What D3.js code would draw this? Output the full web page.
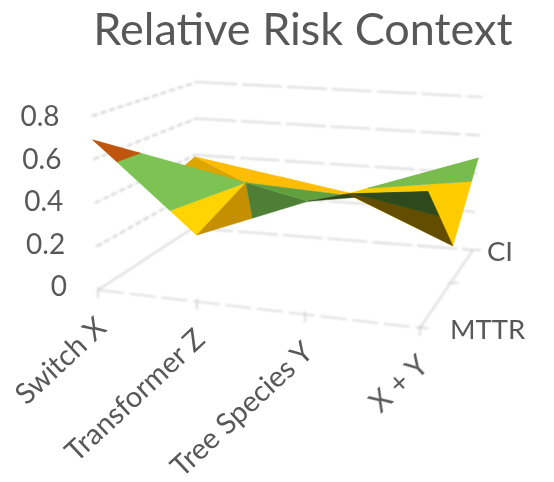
<!DOCTYPE html>
<html>
<head>
<meta charset="utf-8">
<script src="https://cdn.jsdelivr.net/npm/d3@7"></script>
<style>
  body { margin: 0; background: #fff; }
  text { font-family: Lato, "Open Sans", sans-serif; fill: #595959; }
</style>
</head>
<body>
<div id="wrapper"></div>
<script>
// categories along the front edge, series going back into the picture
const categories = ["Switch X", "Transformer Z", "Tree Species Y", "X + Y"]
const seriesNames = ["MTTR", "", "CI"]
const valueTicks = [0, 0.2, 0.4, 0.6, 0.8]

// surface values, one list per series
const mttrValues = [0.69, 0.30, 0.50, 0.59]
const midValues = [0.314, 0.40, 0.385, 0.177]
const ciValues = [0.39, 0.312, 0.23, 0.481]

const bandLimits = [0, 0.4, 0.6, 0.8]

const width = 554
const height = 482

// shades of the bands (low to high), depends on which way a facet looks
const shades = {
    lit: ["#ffd400", "#7dc353", "#c0550f"],
    right: ["#ffcc00", "#79bb4e", "#c0550f"],
    top: ["#ffbc00", "#62a03e", "#c0550f"],
    shaded: ["#dca500", "#62a03e", "#c0550f"],
    side: ["#c49000", "#4f7f34", "#c0550f"],
    fold: ["#ffbc00", "#62a03e", "#c0550f"],
    under: ["#634d00", "#2d4a1f", "#c0550f"]
}

// triangles of the grid in painting order, back to front: [series, category] x 3
const facets = [
    { at: [[1, 0], [1, 1], [2, 0]], shade: "shaded" },
    { at: [[2, 0], [1, 1], [2, 1]], shade: "top" },
    { at: [[2, 1], [1, 2], [2, 2]], shade: "top" },
    { at: [[1, 1], [1, 2], [2, 1]], shade: "top" },
    { at: [[1, 2], [2, 2], [2, 3]], shade: "right" },
    { at: [[1, 2], [2, 3], [1, 3]], shade: "right" },
    { at: [[0, 0], [1, 1], [1, 0]], shade: "lit" },
    { at: [[0, 0], [0, 1], [1, 1]], shade: "lit" },
    { at: [[0, 1], [0, 2], [1, 1]], shade: "side" },
    { at: [[1, 1], [0, 2], [1, 2]], shade: "fold" },
    { at: [[0, 2], [0, 3], [1, 2]], shade: "under" },
    { at: [[1, 2], [0, 3], [1, 3]], shade: "under" }
]

// box corners on the screen, floor and 0.8 level
const floor = { fl: [98, 290], bl: [193, 228], br: [473, 250], fr: [420, 328] }
const roof = { fl: [92, 116], bl: [197, 82], br: [482, 97], fr: [431, 143] }

// perspective spacing of the ticks
const across = d3.scaleLinear().domain([0, 1, 2, 3]).range([0, 0.307, 0.643, 1])
const depth = d3.scaleLinear().domain([0, 1, 2]).range([0, 0.58, 1])
const rise = d3.scaleLinear().domain([0, 0.8]).range([0, 1])

function mix(a, b, t) {
    return [a[0] + (b[0] - a[0]) * t, a[1] + (b[1] - a[1]) * t]
}

function project(cat, ser, value) {
    let u = across(cat), v = depth(ser), w = rise(value)
    let f = mix(mix(floor.fl, floor.fr, u), mix(floor.bl, floor.br, u), v)
    let r = mix(mix(roof.fl, roof.fr, u), mix(roof.bl, roof.br, u), v)
    return mix(f, r, w)
}

// cut a polygon down to one value band
function clipAbove(poly, limit, sign) {
    let out = []
    poly.forEach((p, i) => {
        let q = poly[(i + 1) % poly.length]
        let pIn = sign * (p.z - limit) >= 0
        let qIn = sign * (q.z - limit) >= 0
        if (pIn) out.push(p)
        if (pIn !== qIn) {
            let t = (limit - p.z) / (q.z - p.z)
            out.push({ x: p.x + (q.x - p.x) * t, y: p.y + (q.y - p.y) * t, z: limit })
        }
    })
    return out
}

const grid = [mttrValues, midValues, ciValues]

let pieces = []
facets.forEach(f => {
    let tri = f.at.map(([s, c]) => {
        let p = project(c, s, grid[s][c])
        return { x: p[0], y: p[1], z: grid[s][c] }
    })
    d3.pairs(bandLimits).forEach(([lo, hi], b) => {
        let poly = clipAbove(clipAbove(tri, lo, 1), hi, -1)
        if (poly.length > 2) pieces.push({ poly, color: shades[f.shade][b] })
    })
})

let svg = d3.select("#wrapper")
    .append("svg")
    .attr("width", width)
    .attr("height", height)

let defs = svg.append("defs")
defs.append("filter")
    .attr("id", "soft")
    .append("feGaussianBlur")
    .attr("stdDeviation", 0.55)
defs.append("filter")
    .attr("id", "softer")
    .append("feGaussianBlur")
    .attr("stdDeviation", 0.8)
defs.append("filter")
    .attr("id", "textSoft")
    .append("feGaussianBlur")
    .attr("stdDeviation", 0.3)

let lines = svg.append("g").attr("filter", "url(#softer)")
let plot = svg.append("g").attr("filter", "url(#soft)")

// back walls
let wallLines = valueTicks.filter(d => d > 0)
lines.selectAll(".wall-left")
    .data(wallLines)
    .enter()
    .append("line")
    .attr("class", "wall-left")
    .attr("x1", d => project(0, 0, d)[0])
    .attr("y1", d => project(0, 0, d)[1])
    .attr("x2", d => project(0, 2, d)[0])
    .attr("y2", d => project(0, 2, d)[1])
    .attr("stroke", "#c4c4c4")
    .attr("stroke-width", 1.6)
    .attr("stroke-dasharray", "6 3")

lines.selectAll(".wall-back")
    .data(valueTicks)
    .enter()
    .append("line")
    .attr("class", "wall-back")
    .attr("x1", d => project(0, 2, d)[0])
    .attr("y1", d => project(0, 2, d)[1])
    .attr("x2", d => project(3, 2, d)[0])
    .attr("y2", d => project(3, 2, d)[1])
    .attr("stroke", "#d2d2d2")
    .attr("stroke-width", 1.6)
    .attr("stroke-dasharray", "40 5")

// floor
let floorEdges = [
    { from: project(0, 0, 0), to: project(0, 2, 0), dash: null },
    { from: project(0, 0, 0), to: project(3, 0, 0), dash: "26 6" },
    { from: project(3, 0, 0), to: project(3, 2, 0), dash: null }
]
lines.selectAll(".floor")
    .data(floorEdges)
    .enter()
    .append("line")
    .attr("class", "floor")
    .attr("x1", d => d.from[0])
    .attr("y1", d => d.from[1])
    .attr("x2", d => d.to[0])
    .attr("y2", d => d.to[1])
    .attr("stroke", "#d4d4d4")
    .attr("stroke-width", 1.6)
    .attr("stroke-dasharray", d => d.dash)

// tick marks
lines.selectAll(".tick-x")
    .data(categories)
    .enter()
    .append("line")
    .attr("class", "tick-x")
    .attr("x1", (d, i) => project(i, 0, 0)[0])
    .attr("y1", (d, i) => project(i, 0, 0)[1] - 3)
    .attr("x2", (d, i) => project(i, 0, 0)[0])
    .attr("y2", (d, i) => project(i, 0, 0)[1] + 8)
    .attr("stroke", "#d4d4d4")
    .attr("stroke-width", 1.6)

lines.selectAll(".tick-s")
    .data(seriesNames)
    .enter()
    .append("line")
    .attr("class", "tick-s")
    .attr("x1", (d, i) => project(3, i, 0)[0] - 3)
    .attr("y1", (d, i) => project(3, i, 0)[1])
    .attr("x2", (d, i) => project(3, i, 0)[0] + 8)
    .attr("y2", (d, i) => project(3, i, 0)[1])
    .attr("stroke", "#d4d4d4")
    .attr("stroke-width", 1.6)

// the surface
plot.selectAll(".piece")
    .data(pieces)
    .enter()
    .append("polygon")
    .attr("class", "piece")
    .attr("points", d => d.poly.map(p => p.x + "," + p.y).join(" "))
    .attr("fill", d => d.color)
    .attr("stroke", d => d.color)
    .attr("stroke-width", 0.4)

let labels = svg.append("g").attr("filter", "url(#textSoft)")

// title
labels.append("text")
    .attr("x", 303)
    .attr("y", 45)
    .attr("text-anchor", "middle")
    .style("font-size", "45px")
    .text("Relative Risk Context")

// value axis, labels drift right going down like the wall does
let valueAxis = d3.scaleLinear().domain([0, 0.8]).range([287, 117])
let labelDrift = d3.scaleLinear().domain([0, 0.8]).range([67, 59.5])
let gy = labels.append("g")
    .call(d3.axisLeft(valueAxis).tickValues(valueTicks).tickSize(0).tickPadding(0)
        .tickFormat(d => d === 0 ? "0" : d3.format(".1f")(d)))
gy.select(".domain").remove()
gy.selectAll("text")
    .attr("x", d => labelDrift(d))
    .attr("fill", null)
    .style("font-size", "28px")
    .style("font-family", "Lato, sans-serif")
    .style("fill", "#595959")

// category labels, slanted, ending under their ticks
labels.selectAll(".cat-label")
    .data(categories)
    .enter()
    .append("text")
    .attr("class", "cat-label")
    .attr("text-anchor", "end")
    .attr("transform", (d, i) => {
        let p = project(i, 0, 0)
        return `translate(${p[0] + 10},${p[1] + 40}) rotate(-43)`
    })
    .style("font-size", "29px")
    .text(d => d)

// series labels
labels.selectAll(".ser-label")
    .data(seriesNames)
    .enter()
    .append("text")
    .attr("class", "ser-label")
    .attr("x", (d, i) => i === 0 ? project(3, i, 0)[0] + 30 : project(3, i, 0)[0] + 14)
    .attr("y", (d, i) => project(3, i, 0)[1] + 11)
    .style("font-size", "27.5px")
    .text(d => d)
</script>
</body>
</html>
